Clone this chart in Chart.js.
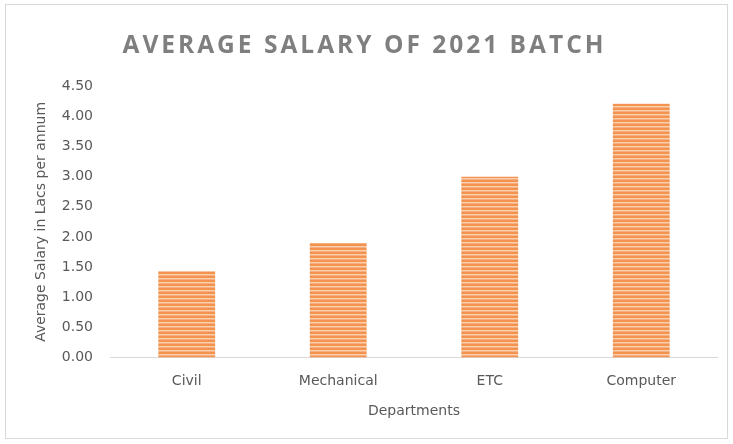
<!DOCTYPE html>
<html>
<head>
<meta charset="utf-8">
<script src="https://cdn.jsdelivr.net/npm/chart.js@4.4.0/dist/chart.umd.min.js"></script>
<style>
  html, body { margin: 0; padding: 0; background: #ffffff; }
  #wrap { position: relative; width: 733px; height: 444px; }
</style>
</head>
<body>
<div id="wrap"><canvas id="c" width="733" height="444"></canvas></div>
<script>
const categories = ["Civil", "Mechanical", "ETC", "Computer"];
const salaries = [1.43, 1.90, 3.00, 4.21];
const yTicks = [0, 0.5, 1, 1.5, 2, 2.5, 3, 3.5, 4, 4.5];
const chartTitle = "AVERAGE SALARY OF 2021 BATCH";
const yTitle = "Average Salary in Lacs per annum";
const xTitle = "Departments";

function stripePattern() {
  const p = document.createElement('canvas');
  p.width = 8; p.height = 4;
  const g = p.getContext('2d');
  g.fillStyle = '#f2944f'; g.fillRect(0, 0, 8, 4);
  g.fillStyle = '#fbcfae'; g.fillRect(0, 2, 8, 1);
  g.fillStyle = '#f6b07f'; g.fillRect(0, 3, 8, 1);
  return g.createPattern(p, 'repeat');
}

const frame = {
  id: 'frame',
  beforeDraw(chart) {
    const ctx = chart.ctx;
    ctx.save();
    ctx.strokeStyle = '#d9d9d9';
    ctx.lineWidth = 1;
    ctx.strokeRect(5.5, 4.5, 722, 434);
    ctx.restore();
  }
};

const axisFont = { family: 'DejaVu Sans', size: 14 };
const tickFontY = { family: 'DejaVu Sans', size: 14 };

const ctx = document.getElementById('c').getContext('2d');
const chart = new Chart(ctx, {
  type: 'bar',
  data: {
    labels: categories,
    datasets: [{
      data: salaries,
      backgroundColor: stripePattern(),
      borderWidth: 0,
      barPercentage: 0.375,
      categoryPercentage: 1.0
    }]
  },
  options: {
    responsive: false,
    animation: false,
    devicePixelRatio: 1,
    layout: { padding: { left: 12, right: 16, top: 18, bottom: 24 } },
    plugins: {
      legend: { display: false },
      tooltip: { enabled: false },
      title: {
        display: true,
        text: chartTitle,
        color: '#7f7f7f',
        font: { family: 'Open Sans', size: 24.5, weight: 'bold' },
        padding: { top: 13, bottom: 26 }
      }
    },
    scales: {
      x: {
        grid: { display: false, drawTicks: false },
        border: { display: true, color: '#d9d9d9', width: 1 },
        ticks: { color: '#595959', font: axisFont, padding: 16, maxRotation: 0 },
        title: { display: true, text: xTitle, color: '#595959', font: axisFont, padding: { top: -3, bottom: 0 } }
      },
      y: {
        min: 0, max: 4.5,
        afterBuildTicks(scale) { scale.ticks = yTicks.map(v => ({ value: v })); },
        grid: { display: false, drawTicks: false },
        border: { display: false },
        ticks: {
          color: '#595959',
          font: tickFontY,
          padding: 18,
          callback: v => Number(v).toFixed(2)
        },
        title: { display: true, text: yTitle, color: '#595959', font: axisFont, padding: { top: 21, bottom: -6 } }
      }
    }
  },
  plugins: [frame]
});

if (chart.titleBlock) {
  const origDraw = chart.titleBlock.draw;
  chart.titleBlock.draw = function () {
    this.ctx.save();
    this.ctx.letterSpacing = '3px';
    origDraw.apply(this, arguments);
    this.ctx.restore();
  };
  chart.draw();
}
</script>
</body>
</html>
